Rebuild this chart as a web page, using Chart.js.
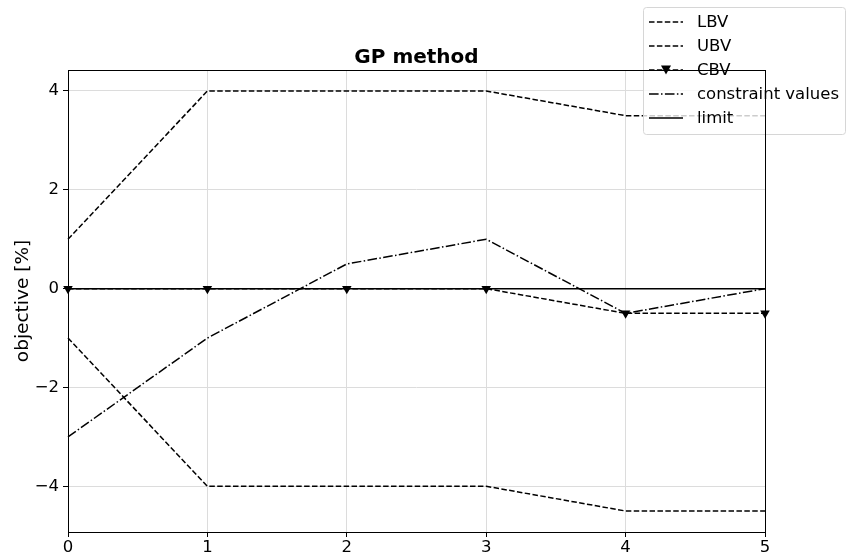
<!DOCTYPE html>
<html><head><meta charset="utf-8">
<script src="https://cdn.jsdelivr.net/npm/chart.js@4.4.1/dist/chart.umd.min.js"></script>
<style>html,body{margin:0;padding:0;background:#fff}#wrap{width:849px;height:556px}</style>
</head><body><div id="wrap"><canvas id="c" width="849" height="556"></canvas></div>
<script>
const xValues = [0, 1, 2, 3, 4, 5];
const lbv = [1, 4, 4, 4, 3.5, 3.5];
const ubv = [-1, -4, -4, -4, -4.5, -4.5];
const cbv = [0, 0, 0, 0, -0.5, -0.5];
const constraintValues = [-3, -1, 0.5, 1, -0.5, 0];
const limit = [0, 0, 0, 0, 0, 0];
const yTicks = [-4, -2, 0, 2, 4];
const xTicks = [0, 1, 2, 3, 4, 5];
const seriesNames = ['LBV', 'UBV', 'CBV', 'constraint values', 'limit'];
const titleText = 'GP method';
const yLabel = 'objective [%]';

const FONT = '"DejaVu Sans", sans-serif';
const pts = arr => arr.map((v, i) => ({x: xValues[i], y: v}));
const DASH = [5.5, 2.4];
const DASHDOT = [9.6, 2.4, 1.5, 2.4];

const legendItems = [
  {name: seriesNames[0], dash: DASH},
  {name: seriesNames[1], dash: DASH},
  {name: seriesNames[2], dash: DASH, marker: true},
  {name: seriesNames[3], dash: DASHDOT},
  {name: seriesNames[4], dash: []}
];

const framePlugin = {
  id: 'frame',
  afterDraw(chart) {
    const {ctx, chartArea: a} = chart;
    ctx.save();
    // title
    ctx.fillStyle = '#000';
    ctx.font = 'bold 20px ' + FONT;
    ctx.textAlign = 'center';
    ctx.textBaseline = 'alphabetic';
    ctx.fillText(titleText, (a.left + a.right) / 2, 63);
    // legend
    const bx = 643, by = 7, bw = 202, bh = 127;
    ctx.fillStyle = 'rgba(255,255,255,0.8)';
    ctx.strokeStyle = '#d6d6d6';
    ctx.lineWidth = 1;
    ctx.beginPath();
    ctx.roundRect(bx + 0.5, by + 0.5, bw, bh, 3);
    ctx.fill();
    ctx.stroke();
    ctx.font = '16.5px ' + FONT;
    ctx.textAlign = 'left';
    ctx.textBaseline = 'middle';
    legendItems.forEach((it, i) => {
      const y = 22 + i * 24;
      ctx.strokeStyle = '#000';
      ctx.lineWidth = 1.5;
      ctx.setLineDash(it.dash);
      ctx.beginPath();
      ctx.moveTo(649, y);
      ctx.lineTo(683, y);
      ctx.stroke();
      ctx.setLineDash([]);
      if (it.marker) {
        ctx.fillStyle = '#000';
        ctx.beginPath();
        ctx.moveTo(661, y - 4.5);
        ctx.lineTo(671, y - 4.5);
        ctx.lineTo(666, y + 4.5);
        ctx.closePath();
        ctx.fill();
      }
      ctx.fillStyle = '#000';
      ctx.fillText(it.name, 697, y + 1);
    });
    // axes frame (drawn over legend as in reference)
    ctx.strokeStyle = '#000';
    ctx.lineWidth = 1;
    ctx.strokeRect(Math.round(a.left) + 0.5, Math.round(a.top) + 0.5, Math.round(a.right - a.left), Math.round(a.bottom - a.top));
    ctx.restore();
  }
};

const base = {borderColor: '#000', backgroundColor: '#000', borderWidth: 1.5, pointRadius: 0, fill: false, tension: 0, clip: false};

new Chart(document.getElementById('c'), {
  type: 'line',
  data: {
    datasets: [
      Object.assign({}, base, {label: seriesNames[0], data: pts(lbv), borderDash: DASH}),
      Object.assign({}, base, {label: seriesNames[1], data: pts(ubv), borderDash: DASH}),
      Object.assign({}, base, {label: seriesNames[2], data: pts(cbv), borderDash: DASH, pointRadius: 5.5, pointStyle: 'triangle', rotation: 180, pointBorderWidth: 0}),
      Object.assign({}, base, {label: seriesNames[3], data: pts(constraintValues), borderDash: DASHDOT}),
      Object.assign({}, base, {label: seriesNames[4], data: pts(limit), borderDash: []})
    ]
  },
  options: {
    responsive: false,
    animation: false,
    events: [],
    layout: {padding: {top: 70, right: 84, left: 0, bottom: 0}},
    plugins: {legend: {display: false}, title: {display: false}, tooltip: {enabled: false}},
    scales: {
      x: {
        type: 'linear', min: 0, max: 5,
        afterBuildTicks: s => { s.ticks = xTicks.map(v => ({value: v})); },
        afterFit: s => { s.height = 24; },
        grid: {color: '#dcdcdc', lineWidth: 1, tickColor: '#000', tickLength: 5, drawTicks: true},
        border: {display: false},
        ticks: {color: '#000', font: {family: FONT, size: 16.5}, padding: 1, maxRotation: 0}
      },
      y: {
        type: 'linear', min: -4.925, max: 4.425,
        afterBuildTicks: s => { s.ticks = yTicks.map(v => ({value: v})); },
        afterFit: s => { s.width = 68; },
        grid: {color: '#dcdcdc', lineWidth: 1, tickColor: '#000', tickLength: 5},
        border: {display: false},
        ticks: {color: '#000', font: {family: FONT, size: 16.5}, padding: 4,
          callback: v => (v < 0 ? '\u2212' + Math.abs(v) : String(v))},
        title: {display: true, text: yLabel, color: '#000', font: {family: FONT, size: 18.5}, padding: {top: 12, bottom: 0}}
      }
    }
  },
  plugins: [framePlugin]
});
</script></body></html>
